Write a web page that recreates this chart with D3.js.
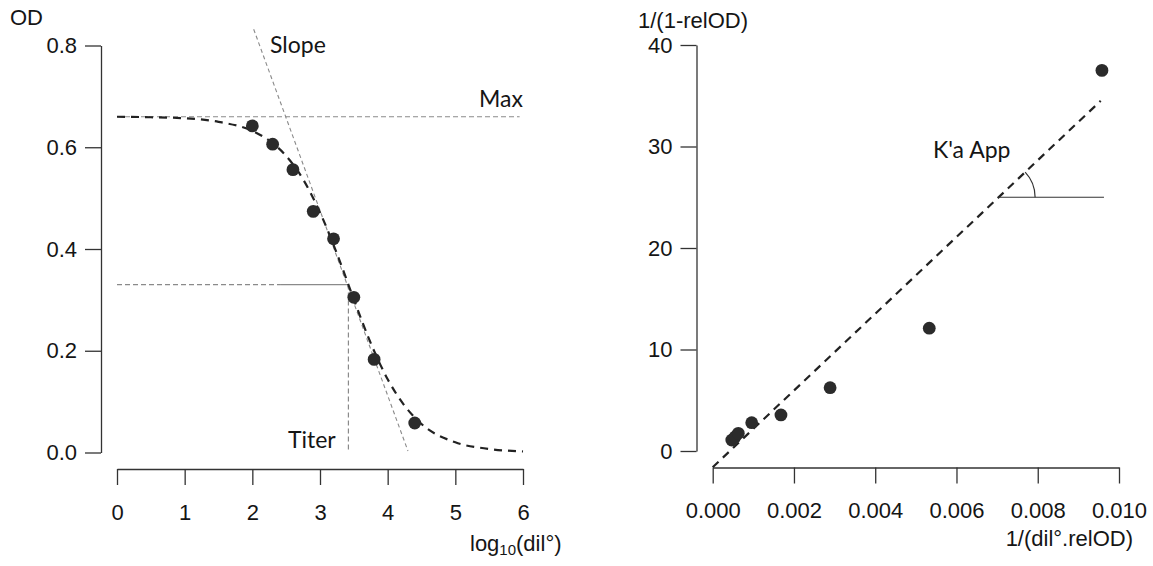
<!DOCTYPE html>
<html><head><meta charset="utf-8">
<script src="https://cdn.jsdelivr.net/npm/d3@7"></script>
<style>
html,body{margin:0;padding:0;background:#fff;}
svg text{fill:#151515;}
.ax text{font-family:"Liberation Sans",Arial,sans-serif;font-size:22px;}
.ax path,.ax line{stroke:#333;stroke-width:1.3;}
.lab{font-family:"Liberation Sans",Arial,sans-serif;font-size:22px;}
.ann{font-family:Lato,"Open Sans",sans-serif;font-size:23px;}
</style></head>
<body>
<svg id="c" width="1153" height="566"></svg>
<script>
// ---------- Left panel data (log10 dilution vs OD) ----------
const leftX = [2.0, 2.3, 2.6, 2.9, 3.2, 3.5, 3.8, 4.4];
const leftOD = [0.642, 0.606, 0.556, 0.474, 0.420, 0.305, 0.183, 0.058];
// fitted sigmoid
const curveX = [0, 0.5, 1.0, 1.5, 2.0, 2.25, 2.5, 2.75, 3.0, 3.25, 3.5, 3.75, 4.0, 4.25, 4.5, 5.0, 5.5, 6.0];
const curveOD = [0.660, 0.659, 0.657, 0.650, 0.632, 0.613, 0.583, 0.537, 0.472, 0.391, 0.301, 0.215, 0.144, 0.092, 0.056, 0.020, 0.007, 0.002];
const maxOD = 0.66;
const halfOD = 0.33;
const titer = 3.42;
const slopeLineX = [2.02, 4.30];
const slopeLineY = [0.832, 0.003];
const leftXTicks = [0, 1, 2, 3, 4, 5, 6];
const leftYTicks = [0.0, 0.2, 0.4, 0.6, 0.8];

// ---------- Right panel data ----------
const rightX = [0.00047, 0.00055, 0.00063, 0.00096, 0.00168, 0.00289, 0.00533, 0.00958];
const rightY = [1.08, 1.38, 1.74, 2.79, 3.55, 6.24, 12.1, 37.5];
const fitX = [0.0, 0.00955];
const fitY = [-1.6, 34.5];
const angleY = 25.0;
const angleXEnd = 0.00963;
const rightXTicks = [0.000, 0.002, 0.004, 0.006, 0.008, 0.010];
const rightYTicks = [0, 10, 20, 30, 40];

const svg = d3.select("#c");

// ======= LEFT =======
const xL = d3.scaleLinear().domain([0, 6]).range([117, 523]);
const yL = d3.scaleLinear().domain([0, 0.8]).range([452.5, 45.5]);

svg.append("g").attr("class","ax").attr("transform","translate(101,0)")
  .call(d3.axisLeft(yL).tickValues(leftYTicks).tickFormat(d3.format(".1f")).tickSize(16).tickSizeOuter(0).tickPadding(8));
svg.append("g").attr("class","ax").attr("transform","translate(0,469)")
  .call(d3.axisBottom(xL).tickValues(leftXTicks).tickFormat(d3.format("d")).tickSize(16).tickSizeOuter(0).tickPadding(19));

const gL = svg.append("g");
const gray = "#8a8a8a";
// max line
gL.append("line").attr("x1", xL(0)).attr("x2", xL(5.95)).attr("y1", yL(maxOD)).attr("y2", yL(maxOD))
  .attr("stroke", gray).attr("stroke-width",1.2).attr("stroke-dasharray","5,3");
// half line dashed then solid
gL.append("line").attr("x1", xL(0)).attr("x2", xL(2.41)).attr("y1", yL(halfOD)).attr("y2", yL(halfOD))
  .attr("stroke", gray).attr("stroke-width",1.2).attr("stroke-dasharray","5,3");
gL.append("line").attr("x1", xL(2.41)).attr("x2", xL(titer)).attr("y1", yL(halfOD)).attr("y2", yL(halfOD))
  .attr("stroke", gray).attr("stroke-width",1.2);
// titer vertical
gL.append("line").attr("x1", xL(titer)).attr("x2", xL(titer)).attr("y1", yL(halfOD)).attr("y2", yL(0.0))
  .attr("stroke", gray).attr("stroke-width",1.2).attr("stroke-dasharray","5,3");
// slope line
gL.append("line").attr("x1", xL(slopeLineX[0])).attr("x2", xL(slopeLineX[1])).attr("y1", yL(slopeLineY[0])).attr("y2", yL(slopeLineY[1]))
  .attr("stroke", gray).attr("stroke-width",1.1).attr("stroke-dasharray","4,3");
// fitted curve
const curvePts = curveX.map((x,i)=>[x, curveOD[i]]);
gL.append("path").datum(curvePts)
  .attr("d", d3.line().x(d=>xL(d[0])).y(d=>yL(d[1])).curve(d3.curveMonotoneX))
  .attr("fill","none").attr("stroke","#222").attr("stroke-width",2.2).attr("stroke-dasharray","8,6");
// points
gL.selectAll("circle").data(leftX.map((x,i)=>[x,leftOD[i]])).join("circle")
  .attr("cx",d=>xL(d[0])).attr("cy",d=>yL(d[1])).attr("r",6.4).attr("fill","#2b2b2b");

// annotations
gL.append("text").attr("class","ann").attr("x", 270).attr("y", 53).text("Slope");
gL.append("text").attr("class","ann").attr("x", 479).attr("y", 107).text("Max");
gL.append("text").attr("class","ann").attr("x", 288).attr("y", 448).text("Titer");

svg.append("text").attr("class","lab").attr("x",10).attr("y",25).text("OD");
const xlab = svg.append("text").attr("class","lab").attr("x",470).attr("y",551);
xlab.append("tspan").text("log");
xlab.append("tspan").attr("font-size","15px").attr("dy","4").text("10");
xlab.append("tspan").attr("dy","-4").text("(dil°)");

// ======= RIGHT =======
const xR = d3.scaleLinear().domain([0, 0.010]).range([712.7, 1119]);
const yR = d3.scaleLinear().domain([0, 40]).range([451, 45]);

svg.append("g").attr("class","ax").attr("transform","translate(696.5,0)")
  .call(d3.axisLeft(yR).tickValues(rightYTicks).tickFormat(d3.format("d")).tickSize(16).tickSizeOuter(0).tickPadding(8));
svg.append("g").attr("class","ax").attr("transform","translate(0,467.5)")
  .call(d3.axisBottom(xR).tickValues(rightXTicks).tickFormat(d3.format(".3f")).tickSize(16).tickSizeOuter(0).tickPadding(19));

const gR = svg.append("g");
gR.append("line").attr("x1", xR(fitX[0])).attr("x2", xR(fitX[1])).attr("y1", yR(fitY[0])).attr("y2", yR(fitY[1]))
  .attr("stroke","#222").attr("stroke-width",2.2).attr("stroke-dasharray","8,6");
// angle marker
const slope = (fitY[1]-fitY[0])/(fitX[1]-fitX[0]);
const ax0 = (angleY - fitY[0]) / slope;
const cx = xR(ax0), cy = yR(angleY);
gR.append("line").attr("x1", cx).attr("x2", xR(angleXEnd)).attr("y1", cy).attr("y2", cy)
  .attr("stroke","#333").attr("stroke-width",1.2);
const pxSlope = (yR(fitY[0]) - yR(fitY[1])) / (xR(fitX[1]) - xR(fitX[0]));
const ang = Math.atan(pxSlope);
const rA = 36.5;
gR.append("path")
  .attr("d", `M${cx+rA},${cy} A${rA},${rA} 0 0 0 ${cx+rA*Math.cos(ang)},${cy-rA*Math.sin(ang)}`)
  .attr("fill","none").attr("stroke","#333").attr("stroke-width",1.2);

gR.selectAll("circle").data(rightX.map((x,i)=>[x,rightY[i]])).join("circle")
  .attr("cx",d=>xR(d[0])).attr("cy",d=>yR(d[1])).attr("r",6.4).attr("fill","#2b2b2b");

gR.append("text").attr("class","ann").attr("x", 933).attr("y", 158).text("K'a App");
svg.append("text").attr("class","lab").attr("x",638).attr("y",28).text("1/(1-relOD)");
svg.append("text").attr("class","lab").attr("x",1133).attr("y",546).attr("text-anchor","end").text("1/(dil°.relOD)");
</script>
</body></html>
